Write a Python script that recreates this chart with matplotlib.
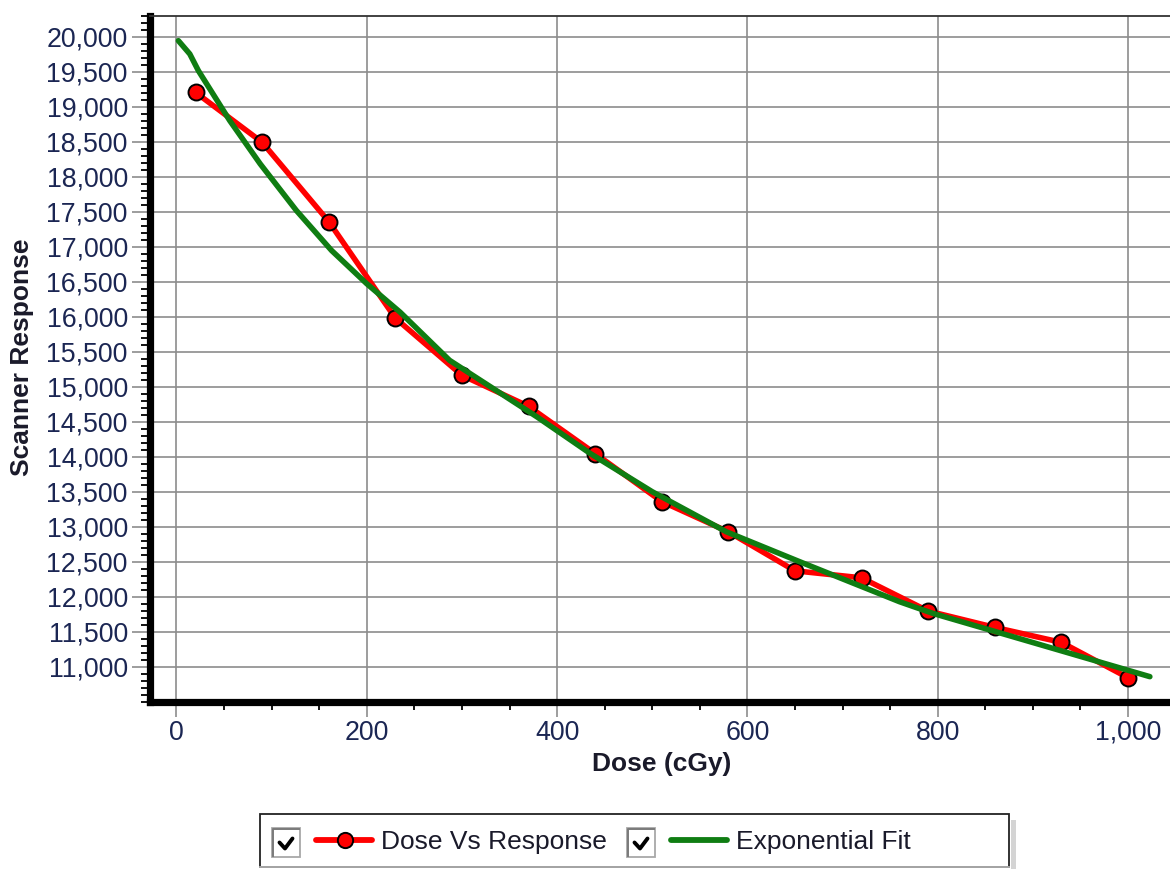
import matplotlib
matplotlib.use("Agg")
import matplotlib.pyplot as plt
from matplotlib.ticker import FixedLocator, MultipleLocator, FuncFormatter
from matplotlib.patches import Rectangle
from matplotlib.lines import Line2D

plt.rcParams["font.family"] = ["Liberation Sans", "DejaVu Sans"]

# Measured film response at each delivered dose
dose_cgy = [20, 90, 160, 230, 300, 370, 440, 510, 580, 650, 720, 790, 860, 930, 1000]
scanner_response = [19205, 18492, 17360, 15980, 15163, 14720, 14045, 13360,
                    12927, 12370, 12270, 11795, 11562, 11348, 10843]

# Exponential calibration fit, sampled along the curve
fit_dose = [2, 14, 23, 56, 88, 126, 163, 200, 235, 287, 333, 379, 435, 500,
            578, 655, 760, 795, 1023]
fit_response = [19943, 19753, 19515, 18801, 18183, 17517, 16946, 16471, 16065,
                15377, 14973, 14568, 14045, 13500, 12927, 12500, 11928, 11762,
                10858]

x_ticks = [0, 200, 400, 600, 800, 1000]
y_ticks = [11000, 11500, 12000, 12500, 13000, 13500, 14000, 14500, 15000,
           15500, 16000, 16500, 17000, 17500, 18000, 18500, 19000, 19500, 20000]

series_labels = ["Dose Vs Response", "Exponential Fit"]
x_label = "Dose (cGy)"
y_label = "Scanner Response"

RED = "#ff0000"
GREEN = "#0f7d12"
GRID = "#8c8c8c"
TICK_TEXT = "#1b2653"
LABEL_TEXT = "#1a1a2a"

W, H = 1170, 869
fig = plt.figure(figsize=(W / 100, H / 100), dpi=100)

# Plot area (extends past the right edge of the canvas)
left_px, bottom_px, top_px = 150.5, 702.0, 15.7
x_lo, x_hi = -27.3, 1060
px_per_x = 0.9515
width_px = (x_hi - x_lo) * px_per_x
ax = fig.add_axes([left_px / W, 1 - bottom_px / H, width_px / W, (bottom_px - top_px) / H])
ax.set_xlim(x_lo, x_hi)
ax.set_ylim(10496, 20300)

ax.plot(dose_cgy, scanner_response, color=RED, lw=4.0, marker="o", ms=11.5,
        mfc=RED, mec="black", mew=1.4, zorder=3, solid_capstyle="round")
ax.plot(fit_dose, fit_response, color=GREEN, lw=4.0, zorder=4,
        solid_capstyle="round", solid_joinstyle="round")

# Axes styling
ax.xaxis.set_major_locator(FixedLocator(x_ticks))
ax.yaxis.set_major_locator(FixedLocator(y_ticks))
ax.xaxis.set_minor_locator(MultipleLocator(50))
ax.yaxis.set_minor_locator(MultipleLocator(100))
fmt = FuncFormatter(lambda v, p: f"{v:,.0f}")
ax.xaxis.set_major_formatter(fmt)
ax.yaxis.set_major_formatter(fmt)

ax.grid(True, which="major", color=GRID, lw=1.2)
ax.set_axisbelow(True)

for side in ("left", "bottom"):
    ax.spines[side].set_linewidth(5.2)
    ax.spines[side].set_color("black")
    ax.spines[side].set_capstyle("projecting")
ax.spines["top"].set_linewidth(1.3)
ax.spines["top"].set_color("#333333")
ax.spines["right"].set_visible(False)

ax.tick_params(axis="y", which="major", length=13.3, width=1.2, color=GRID,
               labelsize=19.3, labelcolor=TICK_TEXT, pad=3)
ax.tick_params(axis="y", which="minor", length=6.2, width=1.3, color="black")
ax.tick_params(axis="x", which="major", length=10.8, width=1.2, color=GRID,
               labelsize=19.3, labelcolor=TICK_TEXT, pad=2)
ax.tick_params(axis="x", which="minor", length=5.8, width=1.3, color="black")

ax.set_xlabel(x_label, fontsize=19, fontweight="bold", color=LABEL_TEXT)
ax.xaxis.set_label_coords((662 - left_px) / width_px, (bottom_px - 752) / (bottom_px - top_px))
ax.set_ylabel(y_label, fontsize=19, fontweight="bold", color=LABEL_TEXT)
ax.yaxis.label.set_verticalalignment("center")
ax.yaxis.set_label_coords((22 - left_px) / width_px, (bottom_px - 357) / (bottom_px - top_px))

# Legend panel drawn in pixel space
lg = fig.add_axes([0, 0, 1, 1], zorder=10)
lg.set_xlim(0, W)
lg.set_ylim(H, 0)
lg.axis("off")
lg.patch.set_alpha(0)

lg.add_patch(Rectangle((1011, 820), 5, 60, facecolor="#d4d4d4", edgecolor="none"))
lg.add_patch(Rectangle((260, 814), 749, 53, facecolor="white", edgecolor="#222222", lw=1.3))
lg.plot([260, 1009], [867, 867], color="#b0b0b0", lw=1.3)


def checkbox(x0):
    lg.add_patch(Rectangle((x0, 828), 28, 29, facecolor="white", edgecolor="#a8a8a8", lw=1.3))
    lg.plot([x0 + 1, x0 + 1, x0 + 27], [856, 829, 829], color="#7a7a7a", lw=1.4)
    lg.plot([x0 + 7.5, x0 + 13, x0 + 20.5], [842.5, 848.5, 838.5], color="black", lw=2.8,
            solid_capstyle="round", solid_joinstyle="round")


checkbox(272)
lg.add_line(Line2D([316, 372], [839.5, 839.5], color=RED, lw=4.2, solid_capstyle="round"))
lg.add_line(Line2D([345], [839.5], marker="o", ms=11, mfc=RED, mec="black", mew=1.4))
lg.text(381, 848.5, series_labels[0], fontsize=19, color=LABEL_TEXT, va="baseline", ha="left")

checkbox(627)
lg.add_line(Line2D([671, 727], [840, 840], color=GREEN, lw=4.2, solid_capstyle="round"))
lg.text(736, 848.5, series_labels[1], fontsize=19, color=LABEL_TEXT, va="baseline", ha="left")

fig.savefig("out.png", dpi=100, facecolor="white")
